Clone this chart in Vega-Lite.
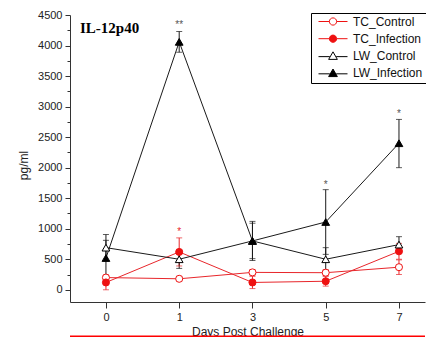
{
  "$schema": "https://vega.github.io/schema/vega-lite/v6.json",
  "width": 355,
  "height": 287,
  "autosize": {"type": "none"},
  "padding": {"left": 70, "top": 15, "right": 1, "bottom": 35},
  "background": "white",
  "config": {"view": {"stroke": null}, "font": "Liberation Sans", "axis": {"labelOverlap": false}},
  "title": {"text": "IL-12p40", "anchor": "start", "frame": "group", "font": "Liberation Serif", "fontSize": 15, "fontWeight": "bold", "color": "black", "offset": -34, "baseline": "alphabetic", "dx": 10, "dy": 5},
  "datasets": {
    "obs": [
      {"day": "0", "series": "TC_Control", "value": 200, "lo": 160, "hi": 240},
      {"day": "1", "series": "TC_Control", "value": 180, "lo": 145, "hi": 220},
      {"day": "3", "series": "TC_Control", "value": 285, "lo": 240, "hi": 330},
      {"day": "5", "series": "TC_Control", "value": 280, "lo": 230, "hi": 330},
      {"day": "7", "series": "TC_Control", "value": 370, "lo": 250, "hi": 490},
      {"day": "0", "series": "TC_Infection", "value": 120, "lo": 0, "hi": 240},
      {"day": "1", "series": "TC_Infection", "value": 620, "lo": 390, "hi": 850},
      {"day": "3", "series": "TC_Infection", "value": 120, "lo": 20, "hi": 220},
      {"day": "5", "series": "TC_Infection", "value": 140, "lo": 60, "hi": 220},
      {"day": "7", "series": "TC_Infection", "value": 630, "lo": 500, "hi": 760},
      {"day": "0", "series": "LW_Control", "value": 690, "lo": 480, "hi": 905},
      {"day": "1", "series": "LW_Control", "value": 500, "lo": 350, "hi": 650},
      {"day": "3", "series": "LW_Control", "value": 800, "lo": 510, "hi": 1090},
      {"day": "5", "series": "LW_Control", "value": 500, "lo": 310, "hi": 690},
      {"day": "7", "series": "LW_Control", "value": 740, "lo": 610, "hi": 870},
      {"day": "0", "series": "LW_Infection", "value": 520, "lo": 230, "hi": 810},
      {"day": "1", "series": "LW_Infection", "value": 4060, "lo": 3890, "hi": 4230},
      {"day": "3", "series": "LW_Infection", "value": 800, "lo": 480, "hi": 1120},
      {"day": "5", "series": "LW_Infection", "value": 1110, "lo": 580, "hi": 1640},
      {"day": "7", "series": "LW_Infection", "value": 2400, "lo": 2000, "hi": 2790}
    ],
    "stars": [
      {"day": "1", "value": 4330, "label": "**", "group": "LW"},
      {"day": "1", "value": 940, "label": "*", "group": "TC"},
      {"day": "5", "value": 1710, "label": "*", "group": "LW"},
      {"day": "7", "value": 2880, "label": "*", "group": "LW"}
    ]
  },
  "resolve": {"axis": {"y": "independent"}, "legend": {"stroke": "independent", "fill": "independent", "shape": "independent"}},
  "layer": [
    {
      "data": {"values": [{"note": "underline"}]},
      "mark": {"type": "rule", "color": "#ff0000", "strokeWidth": 2.5, "clip": false},
      "encoding": {"y": {"datum": -770, "type": "quantitative", "axis": null}}
    },
    {
      "data": {"name": "obs"},
      "mark": {"type": "line", "strokeWidth": 1},
      "encoding": {
        "x": {"field": "day", "type": "ordinal", "scale": {"type": "point", "domain": ["0", "1", "3", "5", "7"], "padding": 0.423, "align": 0.58},
          "axis": {"title": "Days Post Challenge", "titleFont": "Liberation Sans", "titleFontSize": 12, "titleFontWeight": "normal", "titleColor": "#222", "titlePadding": 4, "labelAngle": 0, "labelFontSize": 11, "labelColor": "#222", "labelPadding": 3, "tickSize": 6, "tickColor": "#333", "domainColor": "#333", "grid": false}},
        "y": {"field": "value", "type": "quantitative", "scale": {"domain": [-200, 4500], "nice": false, "zero": false},
          "axis": {"orient": "left", "title": "pg/ml", "titleFont": "Liberation Sans", "titleFontSize": 12, "titleFontWeight": "normal", "titleColor": "#222", "titlePadding": 7, "titleY": 150,
            "values": [0, 500, 1000, 1500, 2000, 2500, 3000, 3500, 4000, 4500],
            "format": "d", "labelOverlap": false, "tickSize": 5,
            "labelFontSize": 11, "labelColor": "#222", "labelPadding": 3, "tickColor": "#333", "domainColor": "#333", "grid": false}},
        "color": {"field": "series", "type": "nominal", "scale": {"domain": ["TC_Control", "TC_Infection", "LW_Control", "LW_Infection"], "range": ["#e8262b", "#e8262b", "#1a1a1a", "#1a1a1a"]}, "legend": null}
      }
    },
    {
      "data": {"name": "obs"},
      "mark": {"type": "rule", "strokeWidth": 1},
      "encoding": {
        "x": {"field": "day", "type": "ordinal"},
        "y": {"field": "lo", "type": "quantitative",
          "axis": {"orient": "left", "title": null, "values": [250, 750, 1250, 1750, 2250, 2750, 3250, 3750, 4250], "labels": false, "domain": false, "grid": false, "tickSize": 3, "tickColor": "#333"}},
        "y2": {"field": "hi"},
        "color": {"field": "series", "type": "nominal", "legend": null}
      }
    },
    {
      "data": {"name": "obs"},
      "mark": {"type": "tick", "size": 6, "thickness": 1, "orient": "horizontal"},
      "encoding": {
        "x": {"field": "day", "type": "ordinal"},
        "y": {"field": "lo", "type": "quantitative", "axis": null},
        "color": {"field": "series", "type": "nominal", "legend": null}
      }
    },
    {
      "data": {"name": "obs"},
      "mark": {"type": "tick", "size": 6, "thickness": 1, "orient": "horizontal"},
      "encoding": {
        "x": {"field": "day", "type": "ordinal"},
        "y": {"field": "hi", "type": "quantitative", "axis": null},
        "color": {"field": "series", "type": "nominal", "legend": null}
      }
    },
    {
      "data": {"name": "obs"},
      "transform": [{"filter": {"field": "series", "oneOf": ["TC_Control", "TC_Infection"]}}],
      "mark": {"type": "point", "shape": "circle", "size": 50, "filled": true, "strokeWidth": 1, "opacity": 1},
      "encoding": {
        "x": {"field": "day", "type": "ordinal"},
        "y": {"field": "value", "type": "quantitative", "axis": null},
        "stroke": {"field": "series", "type": "nominal", "scale": {"domain": ["TC_Control", "TC_Infection", "LW_Control", "LW_Infection"], "range": ["#ee1111", "#ee1111", "#000000", "#000000"]}, "legend": null},
        "fill": {"field": "series", "type": "nominal", "scale": {"domain": ["TC_Control", "TC_Infection", "LW_Control", "LW_Infection"], "range": ["#ffffff", "#ee1111", "#ffffff", "#000000"]}, "legend": null}
      }
    },
    {
      "data": {"name": "obs"},
      "transform": [{"filter": {"field": "series", "oneOf": ["LW_Control", "LW_Infection"]}}],
      "mark": {"type": "point", "shape": "triangle-up", "size": 60, "filled": true, "strokeWidth": 1, "opacity": 1},
      "encoding": {
        "x": {"field": "day", "type": "ordinal"},
        "y": {"field": "value", "type": "quantitative", "axis": null},
        "stroke": {"field": "series", "type": "nominal", "legend": null},
        "fill": {"field": "series", "type": "nominal", "legend": null}
      }
    },
    {
      "data": {"name": "stars"},
      "mark": {"type": "text", "fontSize": 10, "font": "Liberation Sans", "baseline": "middle"},
      "encoding": {
        "x": {"field": "day", "type": "ordinal"},
        "y": {"field": "value", "type": "quantitative", "axis": null},
        "text": {"field": "label"},
        "color": {"condition": {"test": "datum.group === 'TC'", "value": "#e8262b"}, "value": "#555555"}
      }
    },
    {
      "data": {"name": "obs"},
      "transform": [{"filter": "false"}],
      "mark": {"type": "point", "size": 841, "filled": true, "strokeWidth": 1, "opacity": 1},
      "encoding": {
        "x": {"field": "day", "type": "ordinal"},
        "y": {"field": "value", "type": "quantitative", "axis": null},
        "shape": {"field": "series", "type": "nominal", "scale": {"domain": ["TC_Control", "TC_Infection", "LW_Control", "LW_Infection"], "range": [
          "M-1,0H-0.25M0.25,0H1M-0.25,0A0.25,0.25 0 1,0 0.25,0A0.25,0.25 0 1,0 -0.25,0Z",
          "M-1,0H-0.25M0.25,0H1M-0.25,0A0.25,0.25 0 1,0 0.25,0A0.25,0.25 0 1,0 -0.25,0Z",
          "M-1,0.05H-0.22M0.22,0.05H1M0,-0.28L0.3,0.24L-0.3,0.24Z",
          "M-1,0.05H-0.22M0.22,0.05H1M0,-0.28L0.3,0.24L-0.3,0.24Z"
        ]},
          "legend": {"title": null, "orient": "none", "legendX": 241, "legendY": -2, "strokeColor": "#000", "fillColor": "#fff", "padding": 3, "clipHeight": 11, "rowPadding": 4.2, "symbolSize": 841, "symbolOffset": 4, "labelOffset": 5, "labelFont": "Liberation Sans", "labelFontSize": 12, "labelColor": "#111", "symbolStrokeWidth": 1, "symbolOpacity": 1}},
        "stroke": {"field": "series", "type": "nominal",
          "legend": {"title": null, "orient": "none", "legendX": 241, "legendY": -2, "strokeColor": "#000", "fillColor": "#fff", "padding": 3, "clipHeight": 11, "rowPadding": 4.2, "symbolSize": 841, "symbolOffset": 4, "labelOffset": 5, "labelFont": "Liberation Sans", "labelFontSize": 12, "labelColor": "#111", "symbolStrokeWidth": 1, "symbolOpacity": 1}},
        "fill": {"field": "series", "type": "nominal",
          "legend": {"title": null, "orient": "none", "legendX": 241, "legendY": -2, "strokeColor": "#000", "fillColor": "#fff", "padding": 3, "clipHeight": 11, "rowPadding": 4.2, "symbolSize": 841, "symbolOffset": 4, "labelOffset": 5, "labelFont": "Liberation Sans", "labelFontSize": 12, "labelColor": "#111", "symbolStrokeWidth": 1, "symbolOpacity": 1}}
      }
    }
  ]
}
